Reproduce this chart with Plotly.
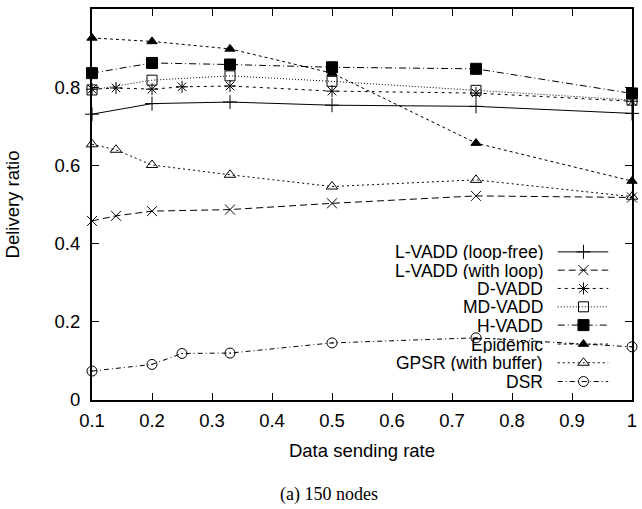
import plotly.graph_objects as go

# ---- data ----
lvadd_free_x = [0.1, 0.2, 0.33, 0.5, 0.74, 1.0]
lvadd_free_y = [0.731, 0.758, 0.762, 0.754, 0.751, 0.733]

lvadd_loop_x = [0.1, 0.14, 0.2, 0.33, 0.5, 0.74, 1.0]
lvadd_loop_y = [0.458, 0.471, 0.483, 0.487, 0.503, 0.522, 0.518]

dvadd_x = [0.1, 0.14, 0.2, 0.25, 0.33, 0.5, 0.74, 1.0]
dvadd_y = [0.795, 0.798, 0.795, 0.801, 0.803, 0.790, 0.785, 0.764]

mdvadd_x = [0.1, 0.2, 0.33, 0.5, 0.74, 1.0]
mdvadd_y = [0.793, 0.818, 0.829, 0.815, 0.792, 0.767]

hvadd_x = [0.1, 0.2, 0.33, 0.5, 0.74, 1.0]
hvadd_y = [0.836, 0.862, 0.858, 0.851, 0.847, 0.784]

epidemic_x = [0.1, 0.2, 0.33, 0.5, 0.74, 1.0]
epidemic_y = [0.926, 0.917, 0.898, 0.836, 0.657, 0.560]

gpsr_x = [0.1, 0.14, 0.2, 0.33, 0.5, 0.74, 1.0]
gpsr_y = [0.654, 0.640, 0.601, 0.576, 0.546, 0.563, 0.520]

dsr_x = [0.1, 0.2, 0.25, 0.33, 0.5, 0.74, 1.0]
dsr_y = [0.074, 0.091, 0.119, 0.120, 0.146, 0.159, 0.136]

names = ["L-VADD (loop-free)", "L-VADD (with loop)", "D-VADD", "MD-VADD",
         "H-VADD", "Epidemic", "GPSR (with buffer)", "DSR"]
xs = [lvadd_free_x, lvadd_loop_x, dvadd_x, mdvadd_x, hvadd_x, epidemic_x, gpsr_x, dsr_x]
ys = [lvadd_free_y, lvadd_loop_y, dvadd_y, mdvadd_y, hvadd_y, epidemic_y, gpsr_y, dsr_y]

x_ticks = [0.1, 0.2, 0.3, 0.4, 0.5, 0.6, 0.7, 0.8, 0.9, 1]
x_ticklabels = ["0.1", "0.2", "0.3", "0.4", "0.5", "0.6", "0.7", "0.8", "0.9", "1"]
y_ticks = [0, 0.2, 0.4, 0.6, 0.8, 1]
y_ticklabels = ["0", "0.2", "0.4", "0.6", "0.8", "1"]

# ---- styles ----
dashes = ["solid", "7px,4px", "3px,4px", "1px,2px", "7px,3px,1px,3px",
          "3px,3px", "2px,3px", "5px,3px,1px,3px"]
symbols = ["cross-thin-open", "x-thin-open", "asterisk-open", "square-open",
           "square", "triangle-up", "triangle-up-open", "circle-open-dot"]
sizes = [10, 10, 10, 10, 11, 9, 10, 10]
FONT = "Liberation Sans, Arial"
FS = 18.5
FS_LEG = 17.5

fig = go.Figure()
for n, x, y, d, s, sz in zip(names, xs, ys, dashes, symbols, sizes):
    fig.add_trace(go.Scatter(
        x=x, y=y, mode="lines+markers", name=n, showlegend=False,
        line=dict(color="black", width=1, dash=d),
        marker=dict(symbol=s, size=sz, color="black",
                    line=dict(color="black", width=1)),
        cliponaxis=False,
    ))

# ---- manual legend (gnuplot style: text right, sample on the right) ----
L, R, T, B = 91.7, 637.0, 8.5, 400.0
W, H = R - L, B - T
def px(v): return (v - L) / W
def py(v): return (B - v) / H

row_y = [251.7, 270.0, 288.3, 306.7, 325.0, 344.0, 362.7, 381.5]
for i, n in enumerate(names):
    yy = py(row_y[i])
    fig.add_trace(go.Scatter(
        x=[px(562), px(588), px(613)], y=[yy, yy, yy],
        xaxis="x2", yaxis="y2", mode="lines", showlegend=False,
        line=dict(color="black", width=1, dash=dashes[i]), hoverinfo="skip"))
    fig.add_trace(go.Scatter(
        x=[px(588)], y=[yy], xaxis="x2", yaxis="y2", mode="markers",
        showlegend=False, hoverinfo="skip",
        marker=dict(symbol=symbols[i], size=sizes[i], color="black",
                    line=dict(color="black", width=1))))
    fig.add_annotation(x=px(548), y=yy, xref="paper", yref="paper",
                       text=n, showarrow=False, xanchor="right", yanchor="middle",
                       height=17, borderpad=0,
                       font=dict(family=FONT, size=FS_LEG, color="black"))

fig.add_annotation(x=px(331.5), y=py(495), xref="paper", yref="paper",
                   text="(a) 150 nodes", showarrow=False, xanchor="center", yanchor="middle",
                   font=dict(family="Liberation Serif, Times New Roman", size=18, color="black"))

axis_common = dict(showline=True, linecolor="black", linewidth=2, mirror="ticks",
                   ticks="inside", ticklen=7, tickwidth=1, tickcolor="black",
                   showgrid=False, zeroline=False,
                   tickfont=dict(family=FONT, size=FS, color="black"))

fig.update_layout(
    width=642, height=509,
    margin=dict(l=L, r=642 - R, t=T, b=509 - B),
    paper_bgcolor="white", plot_bgcolor="white",
    xaxis=dict(range=[0.1, 1], tickvals=x_ticks, ticktext=x_ticklabels,
               ticklabelstandoff=3,
               title=dict(text="Data sending rate", standoff=14,
                          font=dict(family=FONT, size=FS, color="black")),
               **axis_common),
    yaxis=dict(range=[0, 1], tickvals=y_ticks, ticktext=y_ticklabels,
               ticklabelstandoff=6,
               title=dict(text="Delivery ratio", standoff=30,
                          font=dict(family=FONT, size=FS, color="black")),
               **axis_common),
    xaxis2=dict(range=[0, 1], overlaying="x", visible=False, anchor="y2"),
    yaxis2=dict(range=[0, 1], overlaying="y", visible=False, anchor="x2"),
)

fig.write_html("out.html")
